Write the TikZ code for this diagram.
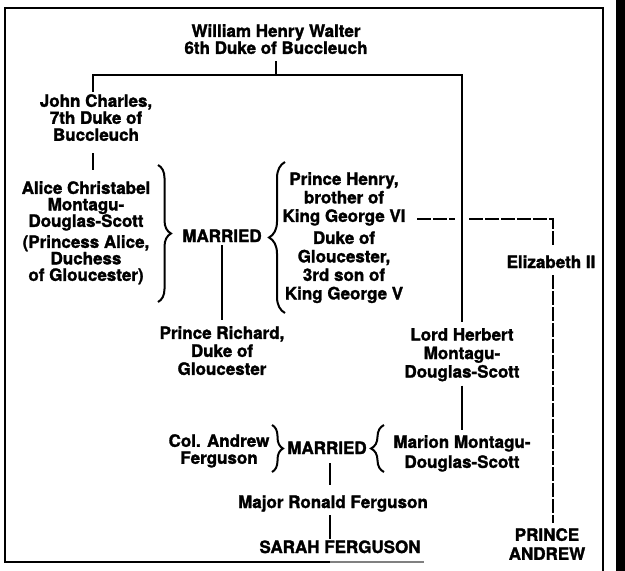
\documentclass[tikz,border=0pt]{standalone}
\usepackage{fontspec}
\setmainfont{TeX Gyre Heros}[BoldFeatures={FakeBold=1.6}]
\usetikzlibrary{decorations.pathreplacing,calc}
\begin{document}
\begin{tikzpicture}[x=1pt,y=-1pt,
  conn/.style={line width=2.4pt},
  dconn/.style={line width=2.2pt, dash pattern=on 14pt off 2pt},
  lbl/.style={inner sep=0pt, align=center, font=\fontsize{17}{17}\selectfont\bfseries},
  brc/.style={line width=2pt, decorate, decoration={brace, amplitude=#1}},
  brc/.default=12pt
]
\useasboundingbox (0,0) rectangle (625,571);

% frame
\draw[line width=2.6pt] (603,571) -- (603,8) -- (5,8) -- (5,562) -- (330,562);
\draw[line width=1.2pt, gray] (330,562) -- (424,562);
\fill (616,0) rectangle (625,571);

% nodes
\node[lbl, anchor=north] (walter) at (276,24) {William Henry Walter\\6th Duke of Buccleuch};
\node[lbl, anchor=north] (john) at (96,94) {John Charles,\\7th Duke of\\Buccleuch};
\node[lbl, anchor=north, font=\fontsize{17}{16.5}\selectfont\bfseries] (alice) at (86,181)
  {Alice Christabel\\Montagu-\\Douglas-Scott\\[4.5pt](Princess Alice,\\Duchess\\of Gloucester)};
\node[lbl, anchor=base] (marr1) at (222,242) {MARRIED};
\node[lbl, anchor=north, font=\fontsize{17}{18.5}\selectfont\bfseries] (henry) at (344,172)
  {Prince Henry,\\brother of\\King George VI\\[3.5pt]Duke of\\Gloucester,\\3rd son of\\King George V};
\node[lbl, anchor=north, font=\fontsize{17}{18}\selectfont\bfseries] (richard) at (222,326)
  {Prince Richard,\\Duke of\\Gloucester};
\node[lbl, anchor=north, font=\fontsize{17}{18.5}\selectfont\bfseries] (herbert) at (462,328)
  {Lord Herbert\\Montagu-\\Douglas-Scott};
\node[lbl, anchor=base] (eliz) at (551,268) {Elizabeth II};
\node[lbl, anchor=north, font=\fontsize{17}{19}\selectfont\bfseries] (andrew) at (547,528) {PRINCE\\ANDREW};
\node[lbl, anchor=north] (colandrew) at (219,434) {Col. Andrew\\Ferguson};
\node[lbl, anchor=base] (marr2) at (327,454) {MARRIED};
\node[lbl, anchor=north, font=\fontsize{17}{20}\selectfont\bfseries] (marion) at (462,435)
  {Marion Montagu-\\Douglas-Scott};
\node[lbl, anchor=base] (ronald) at (333,508) {Major Ronald Ferguson};
\node[lbl, anchor=base] (sarah) at (340,553) {SARAH FERGUSON};

% coordinates
\coordinate (jl) at (93,75);
\coordinate (jr) at (462,75);
\coordinate (kg) at (417,219);
\coordinate (kgm) at (455,219);
\coordinate (kgm2) at (469,219);
\coordinate (kgr) at (553,219);
\coordinate (fx) at (330,0);

% connectors
\draw[conn, shorten <=7pt] (walter.south) -- (walter.south |- jl);
\draw[conn, shorten <=2pt, shorten >=6pt] (john.north -| jl) -- (jl) -- (jr) -- (herbert.north -| jr);
\draw[conn, shorten <=12pt, shorten >=11pt] (john.south -| jl) -- (alice.north -| jl);
\draw[conn, shorten <=3pt, shorten >=6pt] (marr1.south) -- (richard.north);
\draw[conn, shorten <=4pt, shorten >=5pt] (herbert.south) -- (herbert.south |- marion.north);
\draw[conn, shorten <=9pt, shorten >=10pt] (marr2.south -| fx) -- (ronald.north -| fx);
\draw[conn, shorten <=3.5pt, shorten >=1pt] (ronald.south -| fx) -- (sarah.north -| fx);

% dashed royal line
\draw[dconn] (kg) -- (kgm);
\draw[dconn, shorten >=10pt] (kgm2) -- (kgr) -- (eliz.north -| kgr);
\draw[dconn, shorten <=7pt, shorten >=5pt] (eliz.south -| kgr) -- (andrew.north -| kgr);

% braces
\draw[brc=13pt] (158,165) -- (158,302);
\draw[brc=16pt] (285,313) -- (285,162);
\draw[brc=11pt] (272,425) -- (272,472);
\draw[brc=13pt] (384,472) -- (384,425);
\end{tikzpicture}
\end{document}
